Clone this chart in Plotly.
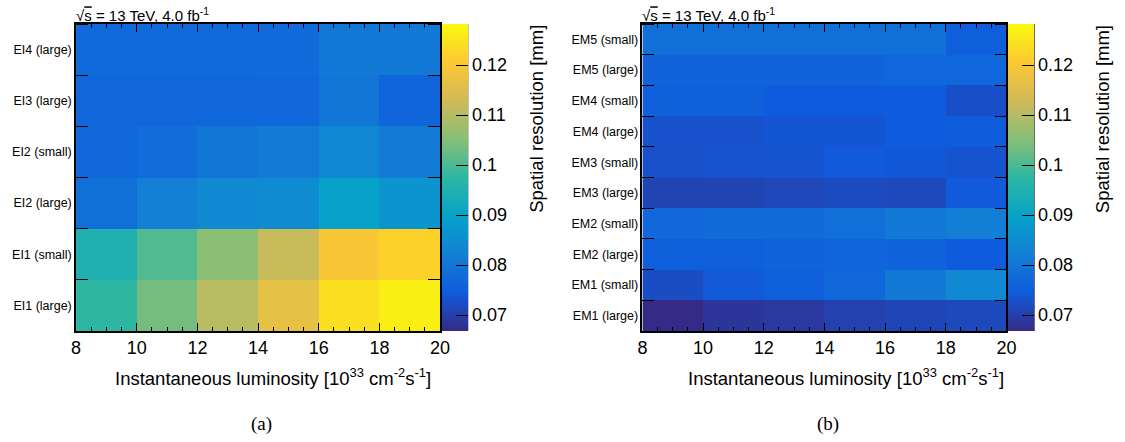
import plotly.graph_objects as go

# ---------------- data ----------------
lumi_edges = [8, 10, 12, 14, 16, 18, 20]

ei_labels = ["EI1 (large)", "EI1 (small)", "EI2 (large)", "EI2 (small)", "EI3 (large)", "EI4 (large)"]
ei1_large = [0.0975, 0.1036, 0.1104, 0.1165, 0.1240, 0.1265]
ei1_small = [0.0950, 0.1006, 0.1055, 0.1120, 0.1199, 0.1221]
ei2_large = [0.0788, 0.0822, 0.0840, 0.0846, 0.0895, 0.0865]
ei2_small = [0.0770, 0.0783, 0.0800, 0.0812, 0.0837, 0.0812]
ei3_large = [0.0770, 0.0770, 0.0770, 0.0772, 0.0800, 0.0765]
ei4_large = [0.0776, 0.0776, 0.0776, 0.0778, 0.0807, 0.0807]

em_labels = ["EM1 (large)", "EM1 (small)", "EM2 (large)", "EM2 (small)", "EM3 (large)",
             "EM3 (small)", "EM4 (large)", "EM4 (small)", "EM5 (large)", "EM5 (small)"]
em1_large = [0.0668, 0.0686, 0.0690, 0.0705, 0.0710, 0.0716]
em1_small = [0.0722, 0.0741, 0.0754, 0.0770, 0.0809, 0.0839]
em2_large = [0.0752, 0.0754, 0.0762, 0.0766, 0.0762, 0.0745]
em2_small = [0.0771, 0.0779, 0.0781, 0.0787, 0.0809, 0.0817]
em3_large = [0.0708, 0.0708, 0.0713, 0.0719, 0.0716, 0.0743]
em3_small = [0.0727, 0.0732, 0.0732, 0.0743, 0.0740, 0.0732]
em4_large = [0.0729, 0.0729, 0.0736, 0.0736, 0.0745, 0.0749]
em4_small = [0.0755, 0.0755, 0.0745, 0.0745, 0.0745, 0.0726]
em5_large = [0.0762, 0.0762, 0.0762, 0.0762, 0.0767, 0.0767]
em5_small = [0.0788, 0.0788, 0.0788, 0.0788, 0.0788, 0.0751]

cb_ticks = [0.07, 0.08, 0.09, 0.10, 0.11, 0.12]
cb_ticktext = ["0.07", "0.08", "0.09", "0.1", "0.11", "0.12"]
zmin, zmax = 0.0668, 0.1282

# ROOT kBird palette
stops = [0.0, 0.125, 0.25, 0.375, 0.5, 0.625, 0.75, 0.875, 1.0]
red = [0.2082, 0.0592, 0.0780, 0.0232, 0.1802, 0.5301, 0.8186, 0.9956, 0.9764]
green = [0.1664, 0.3599, 0.5041, 0.6419, 0.7178, 0.7492, 0.7328, 0.7862, 0.9832]
blue = [0.5293, 0.8684, 0.8385, 0.7914, 0.6425, 0.4662, 0.3499, 0.1968, 0.0539]
kbird = [[s, "rgb(%d,%d,%d)" % (r * 255, g * 255, b * 255)] for s, r, g, b in zip(stops, red, green, blue)]

ei_z = [ei1_large, ei1_small, ei2_large, ei2_small, ei3_large, ei4_large]
em_z = [em1_large, em1_small, em2_large, em2_small, em3_large, em3_small,
        em4_large, em4_small, em5_large, em5_small]

W, H = 1125, 442
FONT = "Liberation Sans, Arial, sans-serif"

def px(x):
    return x / W

def py(y):
    return 1 - y / H

top, bottom = 24, 331
left_dom = [px(72), px(441)]
right_dom = [px(646), px(1015)]
ydom = [py(bottom), py(top)]

fig = go.Figure()
fig.add_trace(go.Heatmap(x=lumi_edges, y=list(range(len(ei_labels) + 1)), z=ei_z,
                         coloraxis="coloraxis", xaxis="x", yaxis="y", hoverongaps=False))
fig.add_trace(go.Heatmap(x=lumi_edges, y=list(range(len(em_labels) + 1)), z=em_z,
                         coloraxis="coloraxis2", xaxis="x2", yaxis="y2", hoverongaps=False))

def xaxis(dom, anchor):
    return dict(domain=dom, anchor=anchor, range=[8, 20], tickvals=lumi_edges,
                ticks="inside", ticklen=8, tickwidth=1, tickcolor="black",
                minor=dict(dtick=0.5, tick0=8, ticks="inside", ticklen=4, tickcolor="black"),
                showline=True, linecolor="black", linewidth=1.5, mirror="allticks",
                showgrid=False, zeroline=False,
                tickfont=dict(family=FONT, size=18, color="black"))

def yaxis(dom, anchor, labels):
    n = len(labels)
    return dict(domain=dom, anchor=anchor, range=[0, n],
                tickvals=[i + 0.5 for i in range(n)], ticktext=labels, ticks="",
                minor=dict(tickvals=list(range(n + 1)), ticks="inside", ticklen=12, tickcolor="black"),
                showline=True, linecolor="black", linewidth=1.5, mirror="allticks",
                showgrid=False, zeroline=False,
                tickfont=dict(family=FONT, size=12.5, color="black"))

def cbar(xleft):
    return dict(x=px(xleft), xanchor="left", xpad=0, ypad=0,
                y=py(bottom), yanchor="bottom", lenmode="pixels", len=bottom - top,
                thickness=26, outlinewidth=0,
                tickvals=cb_ticks, ticktext=cb_ticktext, ticks="inside", ticklen=12,
                tickcolor="black", tickfont=dict(family=FONT, size=18, color="black"))

fig.update_layout(
    width=W, height=H, margin=dict(l=0, r=0, t=0, b=0),
    paper_bgcolor="white", plot_bgcolor="white",
    xaxis=xaxis(left_dom, "y"), yaxis=yaxis(ydom, "x", ei_labels),
    xaxis2=xaxis(right_dom, "y2"), yaxis2=yaxis(ydom, "x2", em_labels),
    coloraxis=dict(colorscale=kbird, cmin=zmin, cmax=zmax, colorbar=cbar(443)),
    coloraxis2=dict(colorscale=kbird, cmin=zmin, cmax=zmax, colorbar=cbar(1017)),
    font=dict(family=FONT, color="black"),
    showlegend=False,
)

# colorbar axis lines (right edge of palettes)
for xr in (469, 1043):
    fig.add_shape(type="line", xref="paper", yref="paper", x0=px(xr), x1=px(xr),
                  y0=py(bottom), y1=py(top), line=dict(color="black", width=1))

ann = []
xtitle = "Instantaneous luminosity [10<sup>33</sup> cm<sup>-2</sup>s<sup>-1</sup>]"
for xr in (434, 1015):
    ann.append(dict(text=xtitle, x=px(xr), y=py(377), xref="paper", yref="paper",
                    xanchor="right", yanchor="middle", showarrow=False,
                    font=dict(family=FONT, size=18.5, color="black")))
for xc in (538, 1112):
    ann.append(dict(text="Spatial resolution [mm]", x=px(xc), y=py(23), xref="paper", yref="paper",
                    xanchor="center", yanchor="top", textangle=-90, showarrow=False,
                    font=dict(family=FONT, size=18.5, color="black")))
for xl in (70, 644):
    ann.append(dict(text="√<span style='text-decoration:overline'>s</span> = 13 TeV, 4.0 fb<sup>-1</sup>",
                    x=px(xl), y=py(15), xref="paper", yref="paper",
                    xanchor="left", yanchor="middle", showarrow=False,
                    font=dict(family=FONT, size=15, color="black")))
for xc, lab in ((260, "(a)"), (834, "(b)")):
    ann.append(dict(text=lab, x=px(xc), y=py(424), xref="paper", yref="paper",
                    xanchor="center", yanchor="middle", showarrow=False,
                    font=dict(family="Liberation Serif, Times New Roman, serif", size=19, color="black")))
fig.update_layout(annotations=ann)

fig.write_html("out.html")
